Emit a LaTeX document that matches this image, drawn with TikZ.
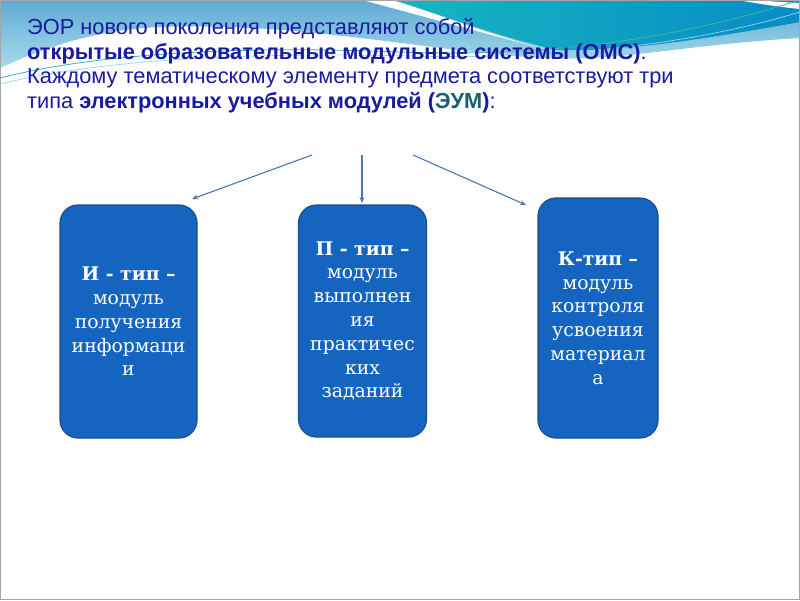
\documentclass[tikz,border=0pt]{standalone}
\usepackage{fontspec}
\setmainfont{Liberation Sans}
\newfontfamily\serifbox{DejaVu Serif}
\usetikzlibrary{arrows.meta}
\definecolor{headblue}{RGB}{26,26,160}
\definecolor{headteal}{RGB}{22,96,112}
\definecolor{boxfill}{RGB}{21,101,192}
\definecolor{boxline}{RGB}{30,78,140}
\definecolor{arrowcol}{RGB}{74,120,176}
\definecolor{skytop}{RGB}{96,170,210}
\definecolor{skybot}{RGB}{168,220,236}
\definecolor{tealtop}{RGB}{24,182,192}
\definecolor{tealbot}{RGB}{6,140,196}
\definecolor{thread}{RGB}{60,184,170}
\definecolor{foam}{RGB}{150,214,232}

\begin{document}
\begin{tikzpicture}[x=1pt,y=-1pt,
    module/.style={draw=boxline,line width=1.2pt,fill=boxfill,rounded corners=18pt,
      text=white,align=center,inner sep=0pt,
      font=\serifbox\fontsize{18.8}{23.8}\selectfont},
    arrow/.style={-{Stealth[length=6pt,width=5pt]},draw=arrowcol,line width=1.1pt}
  ]
  \useasboundingbox (0,0) rectangle (800,600);
  \fill[white] (0,0) rectangle (800,600);
  \shade[top color=skytop,bottom color=skybot] (0,0) -- (800,0) -- (800,38)
    .. controls (680,45) and (620,62) .. (540,58)
    .. controls (420,50) and (300,22) .. (160,27)
    .. controls (90,30) and (40,50) .. (0,68) -- cycle;
  \shade[left color=tealtop,right color=tealbot] (392,0) -- (800,0) -- (800,22)
    .. controls (700,40) and (620,52) .. (556,50)
    .. controls (490,34) and (440,14) .. (392,0) -- cycle;
  \fill[white] (362,0) .. controls (430,18) and (500,38) .. (558,52)
    .. controls (490,36) and (440,14) .. (392,0) -- cycle;
  \fill[white] (738,0) .. controls (760,4) and (780,7) .. (800,9) -- (800,3)
    .. controls (780,2) and (765,1) .. (755,0) -- cycle;
  \draw[thread,line width=0.8pt] (0,78) .. controls (90,55) and (230,45) .. (400,52)
    .. controls (560,58) and (690,35) .. (800,0);
  \draw[foam,line width=0.7pt] (0,84) .. controls (100,60) and (240,52) .. (410,56)
    .. controls (570,60) and (700,42) .. (800,12);

  \node[anchor=north west,align=left,inner sep=0pt,text=headblue,
    font=\fontsize{21.8}{24.7}\selectfont] (head) at (27,18)
    {ЭОР нового поколения представляют собой\\
     \textbf{открытые образовательные модульные системы (ОМС)}.\\
     Каждому тематическому элементу предмета соответствуют три\\
     типа \textbf{электронных учебных модулей (\textcolor{headteal}{ЭУМ})}:};

  \node[module,minimum width=137pt,minimum height=233pt] (itype) at (128.5,321.5)
    {\textbf{И - тип –}\\модуль\\получения\\информаци\\и};
  \node[module,minimum width=128pt,minimum height=232pt] (ptype) at (362.5,321)
    {\textbf{П - тип –}\\модуль\\выполнен\\ия\\практичес\\ких\\заданий};
  \node[module,minimum width=120pt,minimum height=240pt] (ktype) at (598,318)
    {\textbf{К-тип –}\\модуль\\контроля\\усвоения\\материал\\а};

  \coordinate (s1) at (312,155);
  \coordinate (s2) at (362,155);
  \coordinate (s3) at (413,155);
  \coordinate (e1) at (192,199);
  \coordinate (e2) at (362,203);
  \coordinate (e3) at (526,205);
  \draw[arrow] (s1) -- (e1);
  \draw[arrow] (s2) -- (e2);
  \draw[arrow] (s3) -- (e3);

  \draw[gray!70,line width=1pt] (0.5,0.5) rectangle (799.5,599.5);
\end{tikzpicture}
\end{document}
